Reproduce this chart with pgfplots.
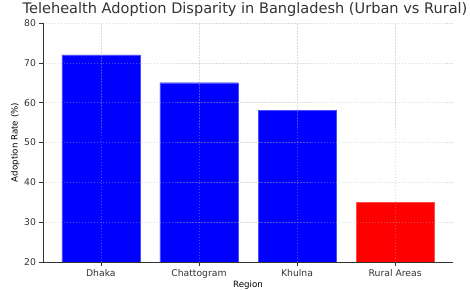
\documentclass[border=0pt]{standalone}
\usepackage{pgfplots}
\pgfplotsset{compat=1.18}
\usepackage{fontspec}
\setmainfont{DejaVu Sans}
\definecolor{txt}{HTML}{333333}
\definecolor{gridc}{HTML}{B0B0B0}
\begin{document}
\begin{tikzpicture}
\path[use as bounding box] (-43bp,-28bp) rectangle (427bp,262bp);
\begin{axis}[
  at={(0,0)}, anchor=south west,
  scale only axis, width=410bp, height=239bp,
  xmin=-0.59, xmax=3.59, ymin=20, ymax=80,
  xtick={0,1,2,3},
  xticklabels={Dhaka,Chattogram,Khulna,Rural Areas},
  ytick={20,30,40,50,60,70,80},
  axis lines*=left,
  axis line style={draw=txt, line width=0.8pt},
  tick style={draw=txt, line width=0.6pt},
  tick align=outside, major tick length=3.5bp,
  grid=major,
  major grid style={dash pattern=on 1.5pt off 1.5pt, gridc, draw opacity=0.45, line width=0.4pt},
  axis on top,
  ticklabel style={font=\fontsize{9.3}{10}\selectfont, text=txt},
  /pgf/number format/assume math mode=true,
  xlabel={Region}, ylabel={Adoption Rate (\%)},
  label style={font=\fontsize{8.7}{10}\selectfont, text=black},
  xlabel style={yshift=4bp},
  ylabel style={yshift=-2bp},
  title={Telehealth Adoption Disparity in Bangladesh (Urban vs Rural)},
  title style={font=\fontsize{14.6}{16}\selectfont, text=txt, anchor=base, at={(0.5,1)}, yshift=4bp, xshift=-3bp},
  ybar, bar width=78bp, bar shift=0pt,
]
\addplot[fill=blue, draw=blue!70!white, line width=0.3pt] coordinates {(0,72) (1,65) (2,58)};
\addplot[fill=red, draw=red!70!white, line width=0.3pt] coordinates {(3,35)};
\end{axis}
\end{tikzpicture}
\end{document}
